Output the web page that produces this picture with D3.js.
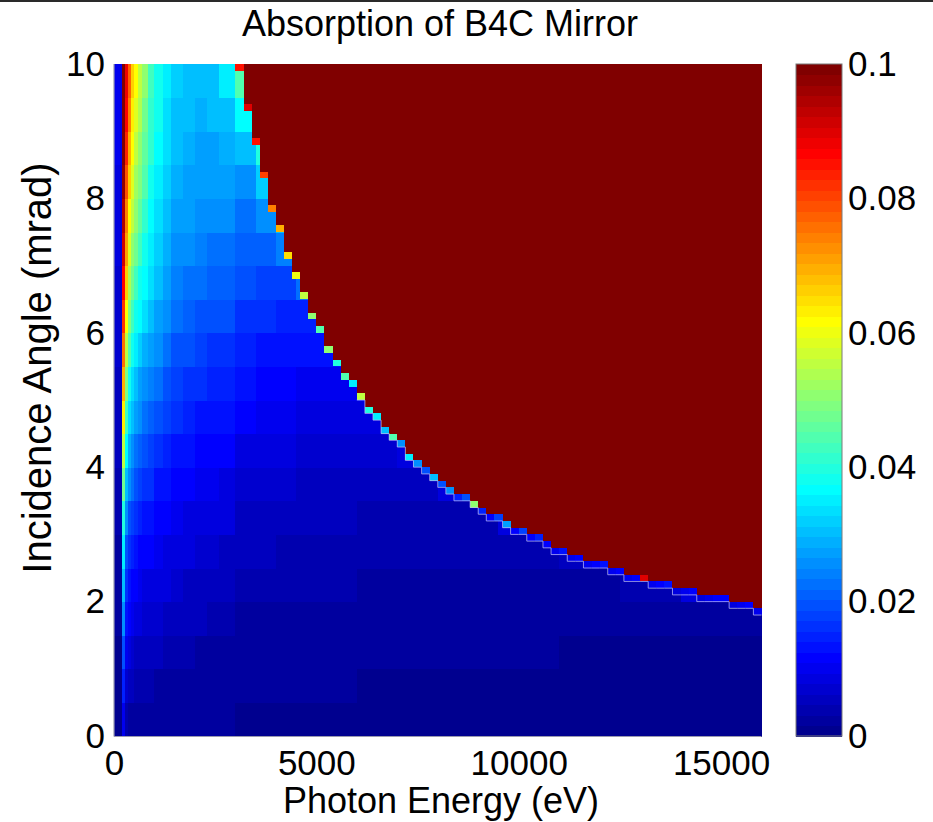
<!DOCTYPE html>
<html><head><meta charset="utf-8">
<script src="https://cdn.jsdelivr.net/npm/d3@7"></script>
<style>
body{margin:0;background:#fff}
text{font-family:"Liberation Sans",Arial,Helvetica,sans-serif;fill:#000}
</style>
</head><body>
<svg id="chart" width="933" height="822"></svg>
<script>
// ---------- DATA ----------
const title = "Absorption of B4C Mirror";
const xLabel = "Photon Energy (eV)";
const yLabel = "Incidence Angle (mrad)";
const xTicks = [0, 5000, 10000, 15000];
const yTicks = [0, 2, 4, 6, 8, 10];
const cTicks = [0, 0.02, 0.04, 0.06, 0.08, 0.1];
const cTickLabels = ["0", "0.02", "0.04", "0.06", "0.08", "0.1"];

// energy column edges (eV) of the absorption grid
const energyEdges = [0, 100, 200, 275, 350, 425, 500, 600, 700, 850, 1000, 1200, 1400, 1700, 2000,
  2300, 2600, 3000, 3500, 4000, 4500, 5000, 6000, 7000, 8000, 9500, 11000, 12500, 14000, 16000];
// angle row edges (mrad)
const angleEdges = [0, 0.5, 1, 1.5, 2, 2.5, 3, 3.5, 4, 4.5, 5, 5.5, 6, 6.5, 7, 7.5, 8, 8.5, 9, 9.5, 10];

// absorption per energy column, rows from 0 mrad (first) to 10 mrad (last)
const absorptionByColumn = [
  [0.0003,0.0008,0.0014,0.0019,0.0025,0.003,0.0036,0.0041,0.0047,0.0052,0.0058,0.0063,0.0069,0.0074,0.008,0.0085,0.0091,0.0096,0.0102,0.0107],
  [0.0003,0.0008,0.0014,0.0019,0.0025,0.003,0.0036,0.0041,0.0047,0.0052,0.0058,0.0063,0.0069,0.0074,0.008,0.0085,0.0091,0.0096,0.0102,0.0107],
  [0.010,0.015,0.020,0.025,0.030,0.035,0.040,0.048,0.056,0.063,0.070,0.076,0.082,0.087,0.091,0.094,0.097,0.099,0.100,0.100],
  [0.004,0.007,0.010,0.013,0.016,0.020,0.025,0.031,0.037,0.043,0.049,0.055,0.061,0.066,0.071,0.075,0.079,0.083,0.086,0.089],
  [0.003,0.005,0.008,0.011,0.013,0.016,0.020,0.025,0.029,0.034,0.039,0.044,0.049,0.054,0.058,0.062,0.066,0.070,0.074,0.077],
  [0.003,0.005,0.007,0.010,0.012,0.015,0.018,0.022,0.026,0.030,0.034,0.039,0.043,0.047,0.051,0.055,0.058,0.061,0.064,0.066],
  [0.003,0.004,0.006,0.009,0.011,0.013,0.016,0.020,0.023,0.027,0.031,0.035,0.039,0.043,0.047,0.050,0.053,0.056,0.059,0.061],
  [0.003,0.004,0.006,0.008,0.010,0.012,0.015,0.018,0.021,0.025,0.028,0.032,0.036,0.039,0.043,0.046,0.049,0.051,0.054,0.056],
  [0.002,0.004,0.005,0.007,0.009,0.011,0.014,0.017,0.020,0.023,0.026,0.029,0.033,0.036,0.039,0.042,0.044,0.046,0.048,0.050],
  [0.002,0.004,0.005,0.007,0.009,0.011,0.013,0.016,0.018,0.021,0.024,0.027,0.030,0.033,0.035,0.037,0.039,0.041,0.042,0.043],
  [0.002,0.003,0.005,0.007,0.008,0.010,0.012,0.014,0.017,0.019,0.022,0.025,0.027,0.030,0.032,0.034,0.035,0.037,0.038,0.039],
  [0.002,0.003,0.004,0.006,0.008,0.009,0.011,0.013,0.015,0.018,0.020,0.023,0.025,0.027,0.029,0.031,0.032,0.033,0.034,0.035],
  [0.002,0.003,0.004,0.005,0.007,0.008,0.010,0.012,0.014,0.016,0.018,0.020,0.022,0.024,0.026,0.028,0.029,0.030,0.031,0.032],
  [0.002,0.003,0.004,0.005,0.006,0.008,0.009,0.011,0.013,0.015,0.017,0.019,0.021,0.023,0.025,0.027,0.028,0.029,0.030,0.031],
  [0.002,0.003,0.003,0.005,0.006,0.007,0.009,0.010,0.012,0.014,0.016,0.018,0.020,0.022,0.024,0.025,0.027,0.028,0.029,0.030],
  [0.002,0.002,0.003,0.004,0.006,0.007,0.008,0.010,0.012,0.013,0.015,0.017,0.019,0.021,0.023,0.025,0.027,0.028,0.030,0.031],
  [0.002,0.002,0.003,0.004,0.005,0.006,0.008,0.009,0.011,0.013,0.015,0.017,0.019,0.021,0.023,0.025,0.027,0.029,0.031,0.035],
  [0.0015,0.002,0.0025,0.003,0.004,0.005,0.006,0.0075,0.009,0.011,0.013,0.015,0.017,0.019,0.021,0.023,0.026,0.030,0.036,0.045],
  [0.0015,0.002,0.0025,0.003,0.004,0.005,0.006,0.007,0.0085,0.010,0.012,0.014,0.016,0.018,0.021,0.025,0.032,0.040,0.040,0.040],
  [0.0012,0.0018,0.0023,0.003,0.0036,0.0045,0.0055,0.0065,0.008,0.0095,0.011,0.013,0.015,0.018,0.024,0.030,0.030,0.030,0.030,0.030],
  [0.0012,0.0017,0.0022,0.0028,0.0034,0.0042,0.005,0.006,0.0075,0.009,0.0105,0.0125,0.015,0.022,0.030,0.030,0.030,0.030,0.030,0.030],
  [0.0011,0.0016,0.002,0.0026,0.0032,0.004,0.0048,0.0058,0.007,0.0085,0.010,0.014,0.020,0.030,0.030,0.030,0.030,0.030,0.030,0.030],
  [0.001,0.0015,0.0019,0.0024,0.003,0.0037,0.0045,0.0055,0.0068,0.0085,0.014,0.020,0.020,0.020,0.020,0.020,0.020,0.020,0.020,0.020],
  [0.001,0.0014,0.0018,0.0022,0.0028,0.0035,0.0043,0.0055,0.009,0.015,0.015,0.015,0.015,0.015,0.015,0.015,0.015,0.015,0.015,0.015],
  [0.0009,0.0013,0.0017,0.0021,0.0027,0.0034,0.0045,0.008,0.012,0.012,0.012,0.012,0.012,0.012,0.012,0.012,0.012,0.012,0.012,0.012],
  [0.0009,0.0012,0.0016,0.002,0.0026,0.0035,0.008,0.012,0.012,0.012,0.012,0.012,0.012,0.012,0.012,0.012,0.012,0.012,0.012,0.012],
  [0.0008,0.0012,0.0015,0.0019,0.0026,0.006,0.012,0.012,0.012,0.012,0.012,0.012,0.012,0.012,0.012,0.012,0.012,0.012,0.012,0.012],
  [0.0008,0.0011,0.0014,0.0018,0.004,0.010,0.012,0.012,0.012,0.012,0.012,0.012,0.012,0.012,0.012,0.012,0.012,0.012,0.012,0.012],
  [0.0008,0.0011,0.0014,0.0025,0.008,0.012,0.012,0.012,0.012,0.012,0.012,0.012,0.012,0.012,0.012,0.012,0.012,0.012,0.012,0.012]
];

// critical-angle staircase: start energy of each 200 eV column (eV)
const critColumnStart = [3000,3200,3400,3600,3800,4000,4200,4400,4600,4800,5000,5200,5400,5600,5800,6000,
  6200,6400,6600,6800,7000,7200,7400,7600,7800,8000,8200,8400,8600,8800,9000,9200,9400,9600,9800,10000,
  10200,10400,10600,10800,11000,11200,11400,11600,11800,12000,12200,12400,12600,12800,13000,13200,13400,
  13600,13800,14000,14200,14400,14600,14800,15000,15200,15400,15600,15800];
// angle (mrad) above which absorption is saturated (> 0.1)
const criticalAngle = [10.0,9.4,8.9,8.4,7.9,7.6,7.2,6.9,6.6,6.3,6.1,5.8,5.6,5.4,5.3,5.1,4.9,4.8,4.6,4.5,
  4.4,4.2,4.1,4.0,3.9,3.8,3.7,3.6,3.6,3.5,3.4,3.3,3.3,3.2,3.1,3.1,3.0,3.0,2.9,2.8,2.8,2.7,2.7,2.6,2.6,2.6,
  2.5,2.5,2.4,2.4,2.4,2.3,2.3,2.3,2.2,2.2,2.2,2.1,2.1,2.1,2.1,2.0,2.0,2.0,1.9];
// absorption of the 0.1 mrad cell just below the critical angle
const edgeAbsorption = [0.085,0.09,0.085,0.08,0.075,0.07,0.065,0.06,0.055,0.05,0.045,0.05,0.04,0.045,0.035,
  0.055,0.04,0.035,0.03,0.045,0.025,0.035,0.025,0.02,0.03,0.02,0.025,0.015,0.02,0.05,0.015,0.012,0.018,
  0.028,0.012,0.018,0.012,0.015,0.012,0.010,0.013,0.010,0.012,0.010,0.011,0.013,0.010,0.012,0.010,0.011,
  0.09,0.010,0.011,0.013,0.009,0.010,0.012,0.009,0.010,0.011,0.012,0.009,0.010,0.011,0.010];

// ---------- COLORMAP (MATLAB jet, 64 levels) ----------
function jet64() {
  const u = i => (i < 1 || i > 47) ? 0 : (i <= 16 ? i / 16 : (i <= 31 ? 1 : (48 - i) / 16));
  const out = [];
  for (let k = 1; k <= 64; k++) out.push(d3.rgb(255 * u(k - 24), 255 * u(k - 8), 255 * u(k + 8)).formatHex());
  return out;
}
const jet = jet64();

// ---------- LAYOUT ----------
const svg = d3.select("#chart");
const x = d3.scaleLinear().domain([0, 16000]).range([114, 761.5]);
const y = d3.scaleLinear().domain([0, 10]).range([736, 64]);
const color = d3.scaleQuantize().domain([0, 0.1]).range(jet);

svg.append("rect").attr("x", 0).attr("y", 0).attr("width", 933).attr("height", 2).attr("fill", "#2a2a2a");

const plot = svg.append("g").attr("shape-rendering", "crispEdges");

// field cells
const cells = [];
absorptionByColumn.forEach((col, c) => col.forEach((v, r) => cells.push({c, r, v})));
plot.selectAll("rect.cell").data(cells).join("rect")
  .attr("class", "cell")
  .attr("x", d => x(energyEdges[d.c]))
  .attr("width", d => x(energyEdges[d.c + 1]) - x(energyEdges[d.c]) + 0.5)
  .attr("y", d => y(angleEdges[d.r + 1]))
  .attr("height", d => y(angleEdges[d.r]) - y(angleEdges[d.r + 1]) + 0.5)
  .attr("fill", d => color(d.v));

const colEnd = i => (i + 1 < critColumnStart.length ? critColumnStart[i + 1] : 16000);

// edge cells just below the critical angle
plot.selectAll("rect.edge").data(criticalAngle).join("rect")
  .attr("class", "edge")
  .attr("x", (d, i) => x(critColumnStart[i]))
  .attr("width", (d, i) => x(colEnd(i)) - x(critColumnStart[i]) + 0.5)
  .attr("y", d => y(d))
  .attr("height", d => y(d - 0.1) - y(d))
  .attr("fill", (d, i) => color(edgeAbsorption[i]));

// saturated region above the critical angle
plot.selectAll("rect.sat").data(criticalAngle).join("rect")
  .attr("class", "sat")
  .attr("x", (d, i) => x(critColumnStart[i]))
  .attr("width", (d, i) => x(colEnd(i)) - x(critColumnStart[i]) + 0.5)
  .attr("y", y(10))
  .attr("height", d => Math.max(0, y(d) - y(10)))
  .attr("fill", color(0.1));

// faint contour line under the staircase
const linePts = [];
criticalAngle.forEach((a, i) => { if (critColumnStart[i] >= 6000) linePts.push([critColumnStart[i], a - 0.1]); });
linePts.push([16000, criticalAngle[criticalAngle.length - 1] - 0.1]);
svg.append("path")
  .attr("d", d3.line().x(d => x(d[0])).y(d => y(d[1])).curve(d3.curveStepAfter)(linePts))
  .attr("fill", "none").attr("stroke", "#b9b9ee").attr("stroke-width", 1).attr("opacity", 0.75);

// axis frame (left & bottom)
svg.append("line").attr("x1", 114).attr("x2", 114).attr("y1", 64).attr("y2", 736.5).attr("stroke", "#9a9ab0").attr("stroke-width", 1.2);
svg.append("line").attr("x1", 114).attr("x2", 761.5).attr("y1", 736.5).attr("y2", 736.5).attr("stroke", "#9a9ab0").attr("stroke-width", 1.2);

// axes
const fs = 35;
const xAxis = svg.append("g").attr("transform", "translate(0,736)")
  .call(d3.axisBottom(x).tickValues(xTicks).tickSize(0).tickPadding(14).tickFormat(d3.format("d")));
const yAxis = svg.append("g").attr("transform", "translate(114,0)")
  .call(d3.axisLeft(y).tickValues(yTicks).tickSize(0).tickPadding(9).tickFormat(d3.format("d")));
[xAxis, yAxis].forEach(g => {
  g.select(".domain").remove();
  g.selectAll("text").attr("font-size", fs).attr("font-family", "Liberation Sans, Arial, sans-serif").attr("fill", "#000");
});

// colorbar
const cy = d3.scaleLinear().domain([0, 0.1]).range([736, 64]);
const cb = svg.append("g").attr("shape-rendering", "crispEdges");
cb.selectAll("rect").data(jet).join("rect")
  .attr("x", 796).attr("width", 46)
  .attr("y", (d, i) => cy((i + 1) * 0.1 / 64))
  .attr("height", (d, i) => cy(i * 0.1 / 64) - cy((i + 1) * 0.1 / 64) + 0.5)
  .attr("fill", d => d);
svg.append("rect").attr("x", 796).attr("y", 64).attr("width", 46).attr("height", 672)
  .attr("fill", "none").attr("stroke", "#7a7a7a").attr("stroke-width", 1);
const cAxis = svg.append("g").attr("transform", "translate(842,0)")
  .call(d3.axisRight(cy).tickValues(cTicks).tickSize(0).tickPadding(6).tickFormat((d, i) => cTickLabels[i]));
cAxis.select(".domain").remove();
cAxis.selectAll("text").attr("font-size", fs).attr("fill", "#000");

// titles
svg.append("text").attr("x", 440).attr("y", 36).attr("text-anchor", "middle").attr("font-size", 36).text(title);
svg.append("text").attr("x", 441).attr("y", 813).attr("text-anchor", "middle").attr("font-size", 36).text(xLabel);
svg.append("text").attr("transform", "translate(51,368) rotate(-90)").attr("text-anchor", "middle").attr("font-size", 40).text(yLabel);
</script>
</body></html>
